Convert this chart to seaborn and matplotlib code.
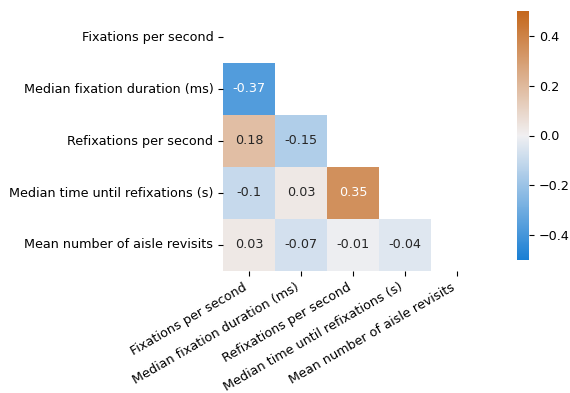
import numpy as np
import pandas as pd
import matplotlib
matplotlib.use("Agg")
import matplotlib.pyplot as plt
from matplotlib.colors import LinearSegmentedColormap
import seaborn as sns

labels = [
    "Fixations per second",
    "Median fixation duration (ms)",
    "Refixations per second",
    "Median time until refixations (s)",
    "Mean number of aisle revisits",
]

# lower-triangle correlation coefficients, row by row
row_fix_dur = [-0.37]
row_refix = [0.18, -0.15]
row_refix_time = [-0.10, 0.03, 0.35]
row_revisits = [0.03, -0.07, -0.01, -0.04]

n = len(labels)
corr = np.eye(n)
for i, row in enumerate([row_fix_dur, row_refix, row_refix_time, row_revisits], start=1):
    for j, v in enumerate(row):
        corr[i, j] = v
        corr[j, i] = v
corr_df = pd.DataFrame(corr, index=labels, columns=labels)

mask = np.triu(np.ones_like(corr, dtype=bool))
cmap = LinearSegmentedColormap.from_list(
    "blue_copper", ["#1a7fd4", "#f1f0f2", "#c4671c"]
)

fs = 9.2
fig = plt.figure(figsize=(5.7, 3.93), dpi=100)
ax = fig.add_axes([223 / 570, 122 / 393, 260 / 570, 260 / 393])
cax = fig.add_axes([517 / 570, 133 / 393, 12 / 570, 249 / 393])

sns.heatmap(
    corr_df, mask=mask, cmap=cmap, vmin=-0.5, vmax=0.5, center=0,
    annot=True, fmt="g", ax=ax, cbar_ax=cax,
    annot_kws={"fontsize": fs},
)
ax.set_xticklabels(labels, rotation=30, ha="right", fontsize=fs)
ax.set_yticklabels(labels, rotation=0, fontsize=fs)
cax.tick_params(labelsize=fs)
cax.set_yticks([-0.4, -0.2, 0.0, 0.2, 0.4])

fig.savefig("out.png", dpi=100)
